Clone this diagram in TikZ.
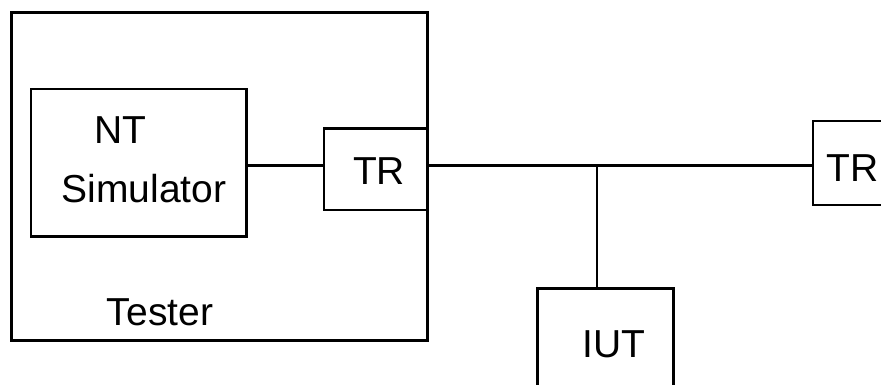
\documentclass[tikz,border=0pt]{standalone}
\usepackage{fontspec}
\setmainfont{Liberation Sans}
\begin{document}
\begin{tikzpicture}[x=1pt,y=-1pt,
  box/.style={draw, line width=2.6pt, inner sep=0pt},
  lbl/.style={inner sep=0pt, anchor=base, font=\fontsize{39}{46}\selectfont},
  wire/.style={line width=2.6pt},
  tapwire/.style={line width=1.3pt}]
  % page area
  \useasboundingbox (0,0) rectangle (881,385);
  \fill[white] (0,0) rectangle (881,385);
  \clip (0,0) rectangle (881,385);

  % boxes
  \node[box, line width=3pt, minimum width=416.5pt, minimum height=328pt] (tester) at (219.25,176.5) {};
  \node[box, minimum width=215.5pt, minimum height=147.5pt] (nt) at (138.75,162.75) {};
  \node[box, minimum width=103.5pt, minimum height=81.5pt] (tr1) at (375.75,169.25) {};
  \node[box, minimum width=117pt, minimum height=84pt] (tr2) at (871.5,163) {};
  \node[box, minimum width=136pt, minimum height=98pt] (iut) at (605.5,337.5) {};

  % labels
  \node[lbl] (ntl) at (120,143) {NT};
  \node[lbl] (siml) at (144,202) {Simulator};
  \node[lbl] (testerl) at (160,325) {Tester};
  \node[lbl] (tr1l) at (379,184) {TR};
  \node[lbl, anchor=base west] (tr2l) at (826,182) {TR};
  \node[lbl] (iutl) at (614,357) {IUT};

  % connections
  \coordinate (link) at (0,165.5);
  \coordinate (bus) at (0,166);
  \coordinate (tap) at (597,166);
  \draw[wire] (nt.east |- link) -- (tr1.west |- link);
  \draw[wire, line width=3pt] (tr1.east |- bus) -- (tr2.west |- bus);
  \draw[tapwire] (tap) -- (iut.north -| tap);
\end{tikzpicture}
\end{document}
